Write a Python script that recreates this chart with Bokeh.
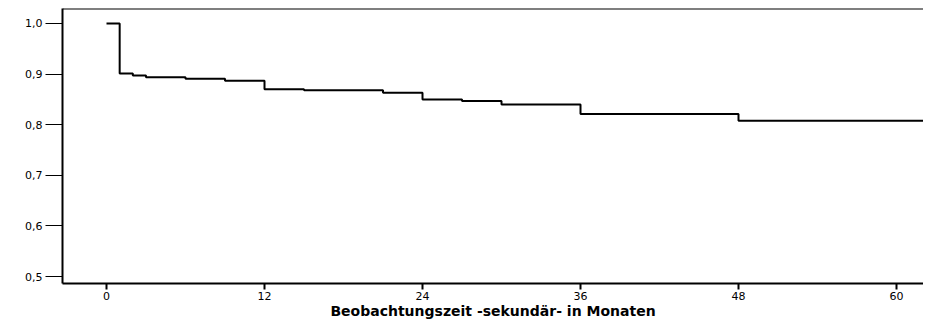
from bokeh.plotting import figure
from bokeh.models import FixedTicker, Range1d, Span, CustomJSTickFormatter
from bokeh.embed import file_html
from bokeh.resources import INLINE

# Kaplan-Meier step data (months, survival)
months = [0, 1, 2, 3, 6, 9, 12, 15, 21, 24, 27, 30, 36, 48, 63]
survival = [1.0, 0.901, 0.897, 0.894, 0.891, 0.887, 0.870, 0.868, 0.863, 0.850, 0.847, 0.840, 0.821, 0.808, 0.808]

x_ticks = [0, 12, 24, 36, 48, 60]
y_ticks = [0.5, 0.6, 0.7, 0.8, 0.9, 1.0]
x_label = "Beobachtungszeit -sekundär- in Monaten"

Y_END = 1.02964
p = figure(width=923, height=321,
           x_range=Range1d(-3.342, 62.05), y_range=Range1d(0.48617, Y_END),
           output_backend="svg", toolbar_location=None,
           min_border_left=62, min_border_right=0, min_border_top=8, min_border_bottom=38)

p.outline_line_color = None
p.xgrid.visible = False
p.ygrid.visible = False
p.background_fill_color = "white"
p.border_fill_color = "white"

p.step(months, survival, mode="after", line_color="black", line_width=2)

p.add_layout(Span(location=Y_END, dimension="width", line_color="black", line_width=2))

# x axis
xa = p.xaxis[0]
xa.ticker = FixedTicker(ticks=x_ticks)
xa.axis_line_width = 2
xa.axis_line_color = "black"
xa.major_tick_line_width = 2
xa.major_tick_line_color = "black"
xa.major_tick_out = 6
xa.major_tick_in = 0
xa.minor_tick_line_color = None
xa.major_label_standoff = 2
xa.major_label_text_font = "DejaVu Sans"
xa.major_label_text_font_size = "11px"
xa.major_label_text_color = "black"
xa.axis_label = x_label
xa.axis_label_standoff = 0
xa.axis_label_text_font = "DejaVu Sans"
xa.axis_label_text_font_style = "bold"
xa.axis_label_text_font_size = "14px"
xa.axis_label_text_color = "black"

# y axis
ya = p.yaxis[0]
ya.ticker = FixedTicker(ticks=y_ticks)
ya.formatter = CustomJSTickFormatter(code="return tick.toFixed(1).replace('.', ',');")
ya.axis_line_width = 2
ya.axis_line_color = "black"
ya.major_tick_line_width = 1
ya.major_tick_line_color = "black"
ya.major_tick_out = 17
ya.major_tick_in = 0
ya.minor_tick_line_color = None
ya.major_label_standoff = 3
ya.major_label_text_font = "DejaVu Sans"
ya.major_label_text_font_size = "11px"
ya.major_label_text_color = "black"

open("out.html", "w").write(file_html(p, INLINE))
